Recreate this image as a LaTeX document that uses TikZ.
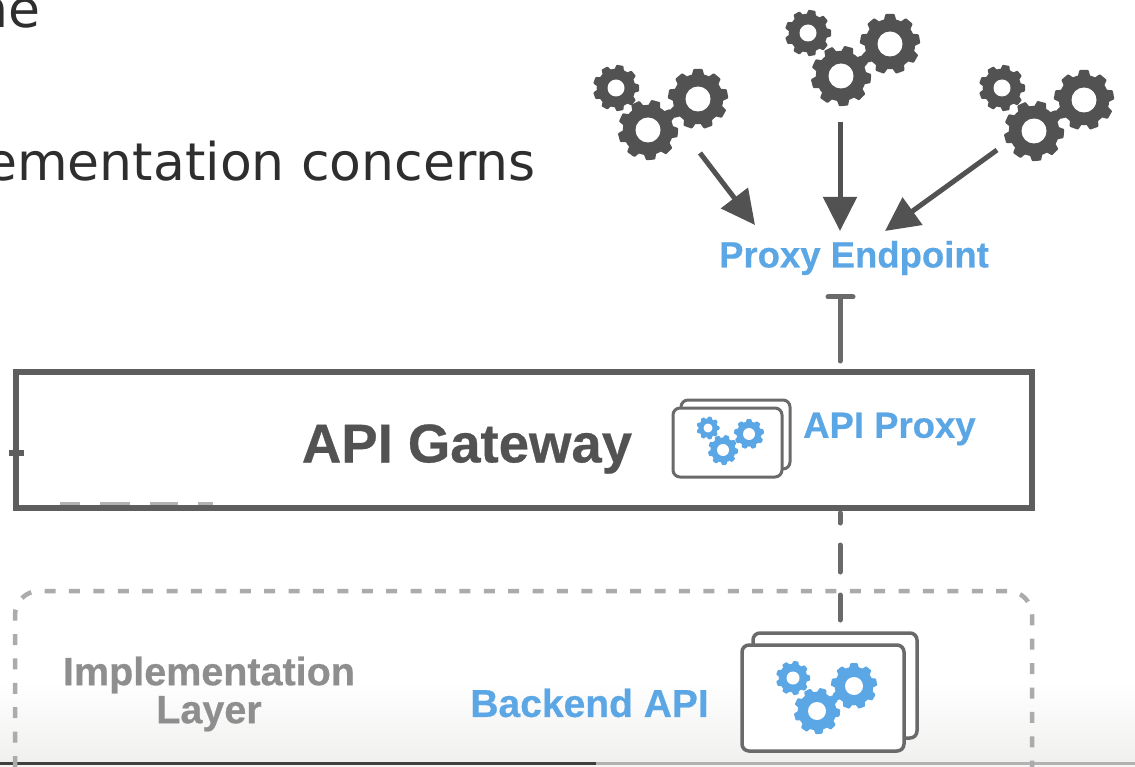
\documentclass[tikz,border=0pt]{standalone}
\usepackage{fontspec}
\setmainfont{Liberation Sans}[BoldFeatures={FakeBold=0.5}]
\newfontfamily\slidefont{DejaVu Sans}
\usetikzlibrary{arrows.meta}
\definecolor{inkgray}{HTML}{525252}
\definecolor{framegray}{HTML}{5E5E5E}
\definecolor{stackgray}{HTML}{6A6A6A}
\definecolor{dashgray}{HTML}{ABABAB}
\definecolor{labelblue}{HTML}{5BA6E4}
\definecolor{layergray}{HTML}{8E8E8E}
\definecolor{slideink}{HTML}{2E2E2E}
\definecolor{footshade}{HTML}{F0F0EF}
\newcommand{\gearat}[6]{%
  \begin{scope}[shift={(#1,#2)}]
    \fill[#5] (0,0) circle ({#3*0.84});
    \foreach \a in {0,40,...,320}{
      \fill[#5,rotate=\a+#6,rounded corners=0.8pt]
        ({-#3*0.22},{#3*0.75}) -- ({-#3*0.15},{#3}) -- ({#3*0.15},{#3}) -- ({#3*0.22},{#3*0.75}) -- cycle;
    }
    \fill[white] (0,0) circle ({#4});
  \end{scope}}
\newcommand{\gearcluster}[7]{%
  \gearat{#1}{#2}{23}{8.5}{#7}{10}
  \gearat{#3}{#4}{30}{12.5}{#7}{5}
  \gearat{#5}{#6}{30}{12.5}{#7}{20}}
\tikzset{
  x=1pt,y=-1pt,
  slidetext/.style={font=\slidefont\fontsize{52}{60}\selectfont,text=slideink,inner sep=0pt},
  bluelabel/.style={font=\bfseries\fontsize{36.5}{40}\selectfont,text=labelblue,inner sep=0pt},
  graylabel/.style={font=\bfseries\fontsize{39.5}{38}\selectfont,text=layergray,inner sep=0pt,align=center},
  flow/.style={draw=inkgray,line width=5pt,-{Triangle[length=34pt,width=33pt]}},
  gatewaybox/.style={draw=framegray,line width=6pt},
  layerbox/.style={draw=dashgray,line width=4.5pt,dash pattern=on 11pt off 13.4pt,rounded corners=24pt},
  stackcard/.style={draw=stackgray,fill=white,rounded corners=7pt},
  stem/.style={draw=stackgray,line width=5pt,line cap=round},
  stemdash/.style={stem,dash pattern=on 10pt off 22pt on 27pt off 23pt on 25pt},
}
\begin{document}
\begin{tikzpicture}
\useasboundingbox (0,0) rectangle (1135,767);
\fill[white] (0,0) rectangle (1135,767);
% bottom fade of the video frame
\shade[top color=white,bottom color=footshade] (0,680) rectangle (1135,762);
\fill[footshade!70!white] (0,765) rectangle (1135,767);
\fill[black!75] (0,762) rectangle (596,765);
\fill[black!30] (596,762) rectangle (1135,765);

% slide text
\node[slidetext,anchor=base east] (slideA) at (41,28) {ne};
\node[slidetext,anchor=base east] (slideB) at (536,181) {ementation concerns};

% client gear clusters
\gearcluster{616}{88}{648}{130}{698}{99}{inkgray}
\gearcluster{808}{33}{841}{76}{890}{44}{inkgray}
\gearcluster{1002}{88}{1034}{131}{1084}{100}{inkgray}
\coordinate (clientA) at (700,153);
\coordinate (clientB) at (840,122);
\coordinate (clientC) at (997,150);
\coordinate (entryA) at (755,225);
\coordinate (entryB) at (840,231);
\coordinate (entryC) at (885,231);

\node[bluelabel] (endpoint) at (854,258) {Proxy Endpoint};
\draw[flow] (clientA) -- (entryA);
\draw[flow] (clientB) -- (entryB);
\draw[flow] (clientC) -- (entryC);

% gateway
\node[gatewaybox,minimum width=1016pt,minimum height=136pt,inner sep=0pt] (gateway) at (523.5,439.5) {};
\node[font=\bfseries\fontsize{54.5}{60}\selectfont,text=inkgray,inner sep=0pt] (gatewaylabel) at (467,449) {API Gateway};
% traces on the frame
\fill[framegray] (9,450) rectangle (24,456);
\foreach \u/\v in {60/80,100/130,150/178,198/213}
  \fill[black!30] (\u,502) rectangle (\v,505);

% T stem from gateway up to endpoint
\coordinate (stemtop) at (840,297);
\coordinate (barleft) at (828,297);
\coordinate (barright) at (853,297);
\coordinate (stemfoot) at (840,361);
\draw[stem] (stemfoot) -- (stemtop);
\draw[stem] (barleft) -- (barright);

% API proxy stack
\draw[stackcard,line width=3pt] (681,400) rectangle (790,469);
\draw[stackcard,line width=3pt] (673,408) rectangle (782,477);
\gearat{708}{428}{11.5}{4.5}{labelblue}{10}
\gearat{723}{450}{15}{6}{labelblue}{5}
\gearat{749}{434}{15}{6}{labelblue}{20}
\node[bluelabel,anchor=west] (proxylabel) at (803,429) {API Proxy};

% implementation layer
\draw[layerbox] (15,767) -- (15,591) -- (1032,591) -- (1032,767);
\node[graylabel] (layerlabel) at (209,694) {Implementation\\Layer};

% backend stack
\coordinate (dashtop) at (840,513);
\coordinate (dashfoot) at (840,620);
\draw[stemdash] (dashtop) -- (dashfoot);
\draw[stackcard,line width=3.5pt] (753,633) rectangle (917,738);
\draw[stackcard,line width=3.5pt] (742,645) rectangle (904,751);
\gearat{793}{678}{17}{6.5}{labelblue}{10}
\gearat{817}{711}{23}{9}{labelblue}{5}
\gearat{854}{686}{23}{9}{labelblue}{20}
\node[font=\bfseries\fontsize{39}{40}\selectfont,text=labelblue,inner sep=0pt,anchor=east] (backendlabel) at (709,703) {Backend API};
\end{tikzpicture}
\end{document}
